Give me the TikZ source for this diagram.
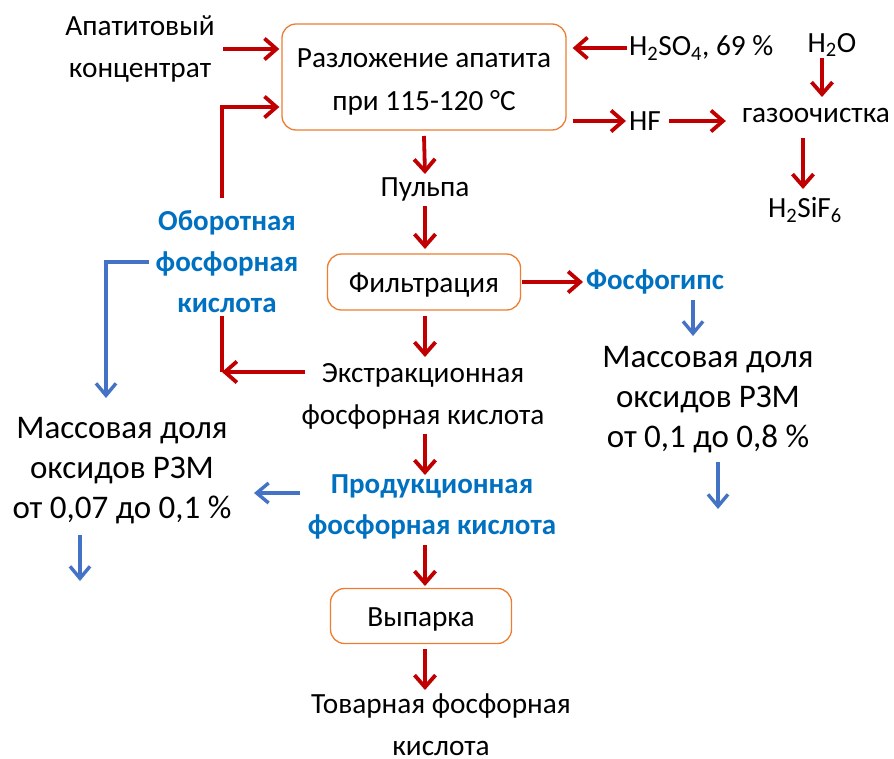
\documentclass[tikz,border=0pt]{standalone}
\usepackage{fontspec}
\setmainfont{Carlito}
\usetikzlibrary{arrows.meta}
\definecolor{dred}{HTML}{C00000}
\definecolor{tblue}{HTML}{0070C0}
\definecolor{ablue}{HTML}{4472C4}
\definecolor{borange}{HTML}{ED7D31}
\tikzset{
  txt/.style={align=center, inner sep=2pt, font=\fontsize{29.3}{42}\selectfont},
  big/.style={align=center, inner sep=2pt, font=\fontsize{33}{40}\selectfont},
  btxt/.style={align=center, inner sep=2pt, text=tblue, font=\bfseries\fontsize{29}{41}\selectfont},
  procbox/.style={draw=borange, line width=1.3pt, rounded corners=14pt},
  boxtxt/.style={align=center, inner sep=1pt, font=\fontsize{29.3}{43}\selectfont},
  ra/.style={draw=dred, line width=3.8pt, -{Straight Barb[length=12pt,width=21pt,line width=3.8pt]}},
  rl/.style={draw=dred, line width=3.8pt},
  ba/.style={draw=ablue, line width=3.4pt, -{Straight Barb[length=12pt,width=20pt,line width=3.4pt]}},
}
\begin{document}
\begin{tikzpicture}[x=1pt,y=-1pt]
\useasboundingbox (0,0) rectangle (894,758);
% nodes
\node[txt] (apat) at (140,49) {Апатитовый\\концентрат};
\node[procbox, minimum width=284pt, minimum height=106pt] (razl) at (424,77) {};
\node[boxtxt] (razlT) at (424,82) {Разложение апатита\\при 115-120 °C};
\node[txt, anchor=west] (h2so4) at (627,48) {H\textsubscript{2}SO\textsubscript{4}, 69 \%};
\node[txt] (h2o) at (832,45) {H\textsubscript{2}O};
\node[txt] (hf) at (645,121) {HF};
\node[txt] (gaz) at (816,115) {газоочистка};
\node[txt] (h2sif) at (805,210) {H\textsubscript{2}SiF\textsubscript{6}};
\node[txt] (pulp) at (425,189) {Пульпа};
\node[procbox, minimum width=193pt, minimum height=56pt] (filt) at (424,282) {};
\node[boxtxt] (filtT) at (424,285) {Фильтрация};
\node[btxt] (fosfog) at (655,282) {Фосфогипс};
\node[big] (mass2) at (708,400) {Массовая доля\\оксидов РЗМ\\от 0,1 до 0,8 \%};
\node[btxt] (obor) at (227,262) {Оборотная\\фосфорная\\кислота};
\node[txt] (ext) at (423,396) {Экстракционная\\фосфорная кислота};
\node[btxt] (prod) at (432,507) {Продукционная\\фосфорная кислота};
\node[big] (mass1) at (122,471) {Массовая доля\\оксидов РЗМ\\от 0,07 до 0,1 \%};
\node[procbox, minimum width=181pt, minimum height=55pt] (vyp) at (421,616) {};
\node[boxtxt] (vypT) at (421,619) {Выпарка};
\node[txt, inner sep=0pt] (tov) at (441,725) {Товарная фосфорная\\кислота};
% coordinates
\coordinate (cA) at (222,107);
\coordinate (cB) at (222,372);
\coordinate (bA) at (106,262);
\coordinate (bB) at (106,398);
\coordinate (m2a) at (693,300);
\coordinate (m2b) at (693,336);
\coordinate (m2c) at (718,462);
\coordinate (m2d) at (718,509);
\coordinate (m1c) at (80,535);
\coordinate (m1d) at (80,581);
% red arrows
\draw[ra, shorten <=6pt, shorten >=2pt] (apat.east |- 0,49) -- (razl.west |- 0,49);
\draw[ra, shorten >=2pt] (cA |- 0,198) -- (cA) -- (razl.west |- cA);
\draw[rl] (cA |- 0,316) -- (cB);
\draw[ra] (305,372) -- (cB);
\draw[ra, shorten >=6pt] (h2so4.west) -- (razl.east |- h2so4.west);
\draw[ra, shorten <=6pt, shorten >=1pt] (razl.east |- hf) -- (hf.west);
\draw[ra, shorten <=6pt, shorten >=14pt] (hf.east) -- (gaz.west |- hf.east);
\draw[ra] (822,58) -- (822,97);
\draw[ra] (803,138) -- (803,189);
\draw[ra] (razl.south |- 0,136) -- (425,174);
\draw[ra] (425,206) -- (425,249);
\draw[ra, shorten <=1pt] (filt.east) -- (583,282);
\draw[ra] (425,316) -- (425,357);
\draw[ra] (425,434) -- (425,475);
\draw[ra] (425,545) -- (425,586);
\draw[ra] (425,649) -- (425,690);
% blue arrows
\draw[ba] (149,262) -- (bA) -- (bB);
\draw[ba] (m2a) -- (m2b);
\draw[ba] (m2c) -- (m2d);
\draw[ba] (300,493) -- (254,493);
\draw[ba] (m1c) -- (m1d);
\end{tikzpicture}
\end{document}
